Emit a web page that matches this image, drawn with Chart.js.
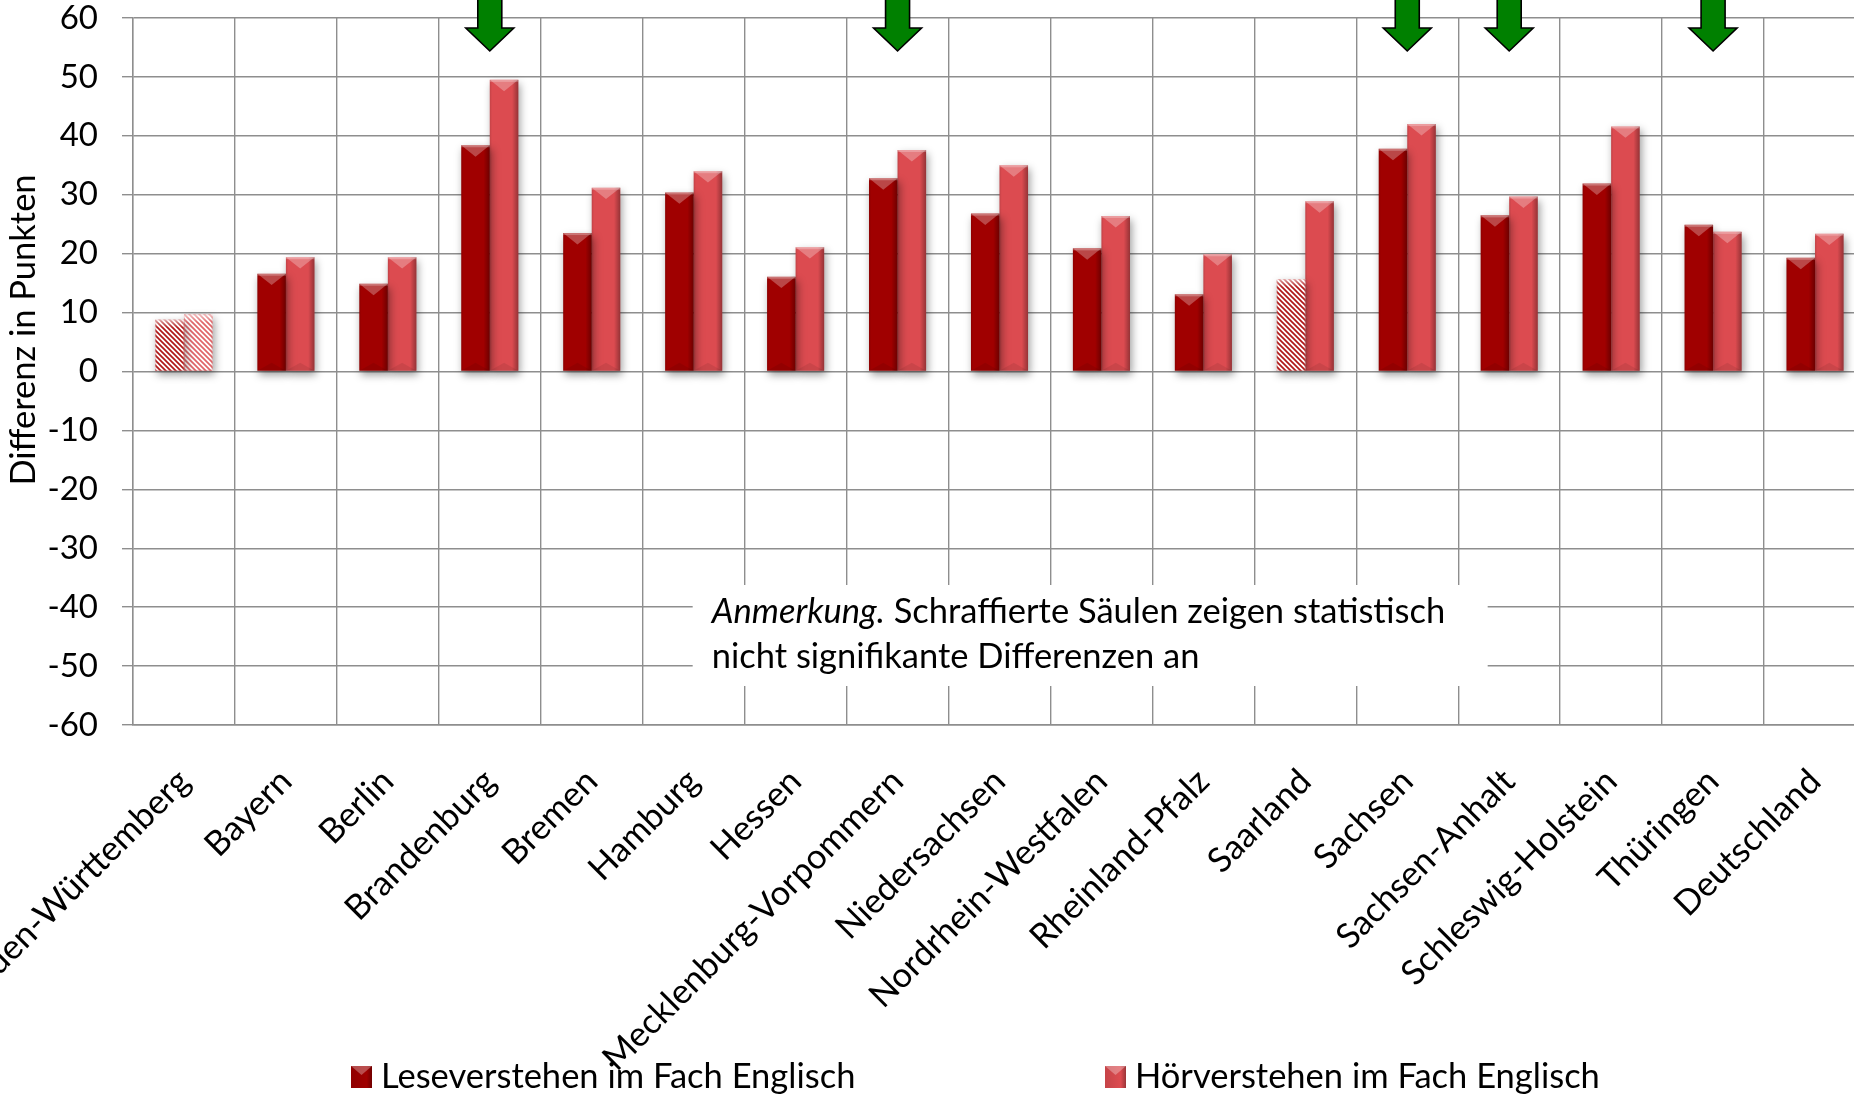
<!DOCTYPE html>
<html><head><meta charset="utf-8">
<script src="https://cdn.jsdelivr.net/npm/chart.js@4.4.1/dist/chart.umd.min.js"></script>
<style>
html,body{margin:0;padding:0;overflow:hidden;background:#fff;width:1854px;height:1094px}
#wrap{position:absolute;left:0;top:0;width:1950px;height:1094px}
</style>
</head><body><div id="wrap"><canvas id="c" width="1950" height="1094"></canvas></div>
<script>
const categories = ['Baden-Württemberg','Bayern','Berlin','Brandenburg','Bremen','Hamburg','Hessen','Mecklenburg-Vorpommern','Niedersachsen','Nordrhein-Westfalen','Rheinland-Pfalz','Saarland','Sachsen','Sachsen-Anhalt','Schleswig-Holstein','Thüringen','Deutschland'];
const leseverstehen = [8.8,16.6,14.9,38.4,23.5,30.4,16.1,32.8,26.8,20.9,13.1,15.7,37.8,26.5,31.9,24.9,19.3];
const hoerverstehen = [9.7,19.4,19.4,49.5,31.2,34.0,21.1,37.6,35.0,26.4,19.9,28.9,42.0,29.7,41.6,23.7,23.4];
const leseSignifikant = [false,true,true,true,true,true,true,true,true,true,true,false,true,true,true,true,true];
const hoerSignifikant = [false,true,true,true,true,true,true,true,true,true,true,true,true,true,true,true,true];
const arrowCategories = ['Brandenburg','Mecklenburg-Vorpommern','Sachsen','Sachsen-Anhalt','Thüringen'];
const seriesLabels = ['Leseverstehen im Fach Englisch','Hörverstehen im Fach Englisch'];
const yTitle = 'Differenz in Punkten';
const noteItalic = 'Anmerkung.';
const noteLine1 = ' Schraffierte Säulen zeigen statistisch';
const noteLine2 = 'nicht signifikante Differenzen an';
const yMin = -60, yMax = 60, yStep = 10;

const COL_LESE = '#a00000';
const COL_HOER = '#dc4b50';
const GRID = '#8e8e8e';
const FONT = 'Lato';
const FS = 34.5;

function hatch(color){
  const s = 5;
  const c = document.createElement('canvas'); c.width = s; c.height = s;
  const x = c.getContext('2d');
  x.fillStyle = '#fff'; x.fillRect(0,0,s,s);
  x.strokeStyle = color; x.lineWidth = 1.7;
  x.beginPath();
  x.moveTo(-1,-1); x.lineTo(s+1,s+1);
  x.moveTo(-1,s-1); x.lineTo(1,s+1);
  x.moveTo(s-1,-1); x.lineTo(s+1,1);
  x.stroke();
  return document.createElement('canvas').getContext('2d').createPattern(c,'repeat');
}
const hatchLese = hatch('#b01818');
const hatchHoer = hatch('#e06468');

function fillFor(color, pattern, sig){
  return ctx => (ctx.dataIndex === undefined || sig[ctx.dataIndex]) ? color : pattern;
}

const barFx = {
  id: 'barFx',
  beforeDatasetsDraw(chart){
    const ctx = chart.ctx; ctx.save();
    ctx.shadowColor = 'rgba(0,0,0,0.38)'; ctx.shadowBlur = 8; ctx.shadowOffsetX = 2; ctx.shadowOffsetY = 4;
  },
  afterDatasetsDraw(chart){
    const ctx = chart.ctx; ctx.restore();
    const sigs = [leseSignifikant, hoerSignifikant];
    chart.data.datasets.forEach((ds, di) => {
      const meta = chart.getDatasetMeta(di);
      meta.data.forEach((bar, i) => {
        const p = bar.getProps(['x','y','base','width'], true);
        const l = p.x - p.width/2, r = p.x + p.width/2;
        const t = Math.min(p.y, p.base), b = Math.max(p.y, p.base), h = b - t;
        ctx.save();
        if (!sigs[di][i]) {
          ctx.strokeStyle = 'rgba(200,90,90,0.35)'; ctx.lineWidth = 1;
          ctx.strokeRect(l+0.5, t+0.5, p.width-1, h-1);
          const g0 = ctx.createLinearGradient(0,t,0,t+8);
          g0.addColorStop(0,'rgba(255,255,255,0.6)'); g0.addColorStop(1,'rgba(255,255,255,0)');
          ctx.fillStyle = g0; ctx.fillRect(l,t,p.width,8);
          ctx.restore(); return;
        }
        const g = ctx.createLinearGradient(l,0,r,0);
        g.addColorStop(0,'rgba(0,0,0,0.12)');
        g.addColorStop(0.08,'rgba(0,0,0,0)');
        g.addColorStop(0.78,'rgba(0,0,0,0)');
        g.addColorStop(1,'rgba(0,0,0,0.32)');
        ctx.fillStyle = g; ctx.fillRect(l,t,p.width,h);
        const d = Math.min(p.width*0.4, h/2);
        ctx.beginPath(); ctx.moveTo(l,t); ctx.lineTo(r,t); ctx.lineTo(p.x,t+d); ctx.closePath();
        ctx.fillStyle = 'rgba(255,255,255,0.28)'; ctx.fill();
        ctx.fillStyle = 'rgba(255,255,255,0.25)'; ctx.fillRect(l,t,p.width,2);
        ctx.beginPath(); ctx.moveTo(l,b); ctx.lineTo(r,b); ctx.lineTo(p.x,b-d*0.7); ctx.closePath();
        ctx.fillStyle = 'rgba(0,0,0,0.08)'; ctx.fill();
        ctx.restore();
      });
    });
  }
};

const extras = {
  id: 'extras',
  afterDraw(chart){
    const ctx = chart.ctx, ca = chart.chartArea, xs = chart.scales.x;
    // annotation box
    ctx.save();
    const bx = xs.getPixelForValue(5) - 1, bw = 795;
    ctx.fillStyle = '#fff';
    ctx.fillRect(bx, ca.top + 567, bw, 101);
    ctx.fillStyle = '#000'; ctx.textBaseline = 'middle'; ctx.textAlign = 'left';
    ctx.font = 'italic ' + FS + 'px ' + FONT;
    const tx = bx + 19;
    ctx.fillText(noteItalic, tx, ca.top + 594);
    const w = ctx.measureText(noteItalic).width;
    ctx.font = FS + 'px ' + FONT;
    ctx.fillText(noteLine1, tx + w, ca.top + 594);
    ctx.fillText(noteLine2, tx, ca.top + 639);
    // y title
    ctx.save();
    ctx.translate(24, 330); ctx.rotate(-Math.PI/2);
    ctx.textAlign = 'center'; ctx.font = FS + 'px ' + FONT;
    ctx.fillText(yTitle, 0, 0);
    ctx.restore();
    // arrows
    arrowCategories.forEach(name => {
      const cx = xs.getPixelForValue(categories.indexOf(name));
      const y0 = ca.top;
      ctx.beginPath();
      ctx.moveTo(cx-12, y0-30); ctx.lineTo(cx+12, y0-30); ctx.lineTo(cx+12, y0+10);
      ctx.lineTo(cx+24, y0+10); ctx.lineTo(cx, y0+33); ctx.lineTo(cx-24, y0+10);
      ctx.lineTo(cx-12, y0+10); ctx.closePath();
      ctx.fillStyle = '#008000'; ctx.fill();
      ctx.strokeStyle = '#000'; ctx.lineWidth = 1.6; ctx.stroke();
    });
    // legend
    const cols = [COL_LESE, COL_HOER];
    const lx = [351, 1105];
    ctx.font = FS + 'px ' + FONT; ctx.textBaseline = 'middle';
    seriesLabels.forEach((lab, k) => {
      const x = lx[k], y = 1066;
      ctx.fillStyle = cols[k]; ctx.fillRect(x, y, 21, 22);
      const g = ctx.createLinearGradient(x,0,x+21,0);
      g.addColorStop(0,'rgba(0,0,0,0.1)'); g.addColorStop(0.75,'rgba(0,0,0,0)'); g.addColorStop(1,'rgba(0,0,0,0.3)');
      ctx.fillStyle = g; ctx.fillRect(x, y, 21, 22);
      ctx.beginPath(); ctx.moveTo(x,y); ctx.lineTo(x+21,y); ctx.lineTo(x+10.5,y+9); ctx.closePath();
      ctx.fillStyle = 'rgba(255,255,255,0.3)'; ctx.fill();
      ctx.fillStyle = '#000';
      ctx.fillText(lab, x + 30, 1077);
    });
    ctx.restore();
  }
};

function build(){
  new Chart(document.getElementById('c'), {
    type: 'bar',
    data: {
      labels: categories,
      datasets: [
        { label: seriesLabels[0], data: leseverstehen, backgroundColor: fillFor(COL_LESE, hatchLese, leseSignifikant), borderWidth: 0 },
        { label: seriesLabels[1], data: hoerverstehen, backgroundColor: fillFor(COL_HOER, hatchHoer, hoerSignifikant), borderWidth: 0 }
      ]
    },
    options: {
      responsive: false, animation: false, devicePixelRatio: 1,
      layout: { padding: { left: 0, right: 84, top: 0, bottom: 0 } },
      datasets: { bar: { barPercentage: 1, categoryPercentage: 0.56 } },
      plugins: { legend: { display: false }, tooltip: { enabled: false } },
      scales: {
        x: {
          grid: { color: GRID, lineWidth: 1.4, drawTicks: false, offset: true },
          border: { color: GRID, width: 1.4 },
          ticks: { color: '#000', font: { family: FONT, size: FS }, minRotation: 45, maxRotation: 45, autoSkip: false, padding: 36 },
          afterFit(s){ s.paddingLeft = 0; s.paddingRight = 0; s.height = 369; }
        },
        y: {
          min: yMin, max: yMax,
          grid: { color: GRID, lineWidth: 1.4, tickLength: 11 },
          border: { color: GRID, width: 1.4 },
          ticks: { stepSize: yStep, color: '#000', font: { family: FONT, size: 33 }, padding: 24 },
          afterFit(s){ s.width = 133; s.paddingTop = 18; s.paddingBottom = 0; }
        }
      }
    },
    plugins: [barFx, extras]
  });
}
Promise.all([document.fonts.load('34px Lato'), document.fonts.load('italic 34px Lato')]).then(build, build);
</script>
</body></html>
